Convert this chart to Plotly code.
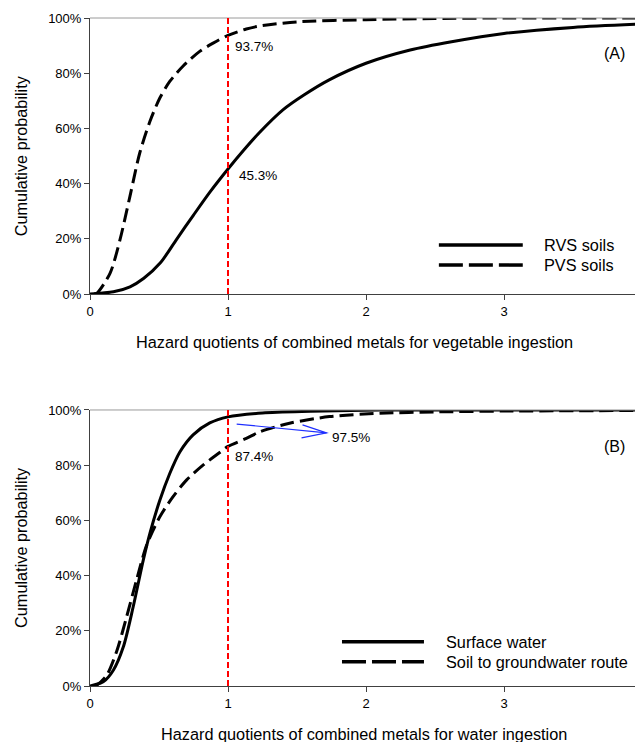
import plotly.graph_objects as go

# ---------------- data ----------------
# Panel A: vegetable ingestion
rvs_x = [0.0, 0.17, 0.29, 0.39, 0.51, 0.63, 0.75, 0.87, 1.0, 1.11, 1.23, 1.40, 1.55, 1.73, 2.0, 2.32, 2.62, 3.0, 3.5, 4.0]
rvs_y = [0.0, 0.8, 2.6, 5.7, 11.3, 20.0, 28.6, 37.0, 45.3, 51.9, 58.6, 66.8, 72.1, 77.5, 83.6, 88.4, 91.4, 94.4, 96.6, 97.8]
pvs_x = [0.03, 0.05, 0.145, 0.217, 0.289, 0.36, 0.434, 0.506, 0.578, 0.675, 0.795, 0.892, 1.0, 1.133, 1.23, 1.5, 2.0, 2.5, 3.0, 4.0]
pvs_y = [0.0, 0.3, 7.5, 19.6, 35.3, 51.0, 62.5, 71.0, 77.0, 82.6, 87.9, 90.9, 93.7, 96.0, 97.1, 98.6, 99.4, 99.8, 100.0, 100.0]

# Panel B: water ingestion
sw_x = [0.0, 0.096, 0.169, 0.241, 0.313, 0.386, 0.434, 0.506, 0.578, 0.651, 0.747, 0.868, 1.0, 1.25, 1.6, 2.1, 3.0, 4.0]
sw_y = [0.0, 1.5, 5.7, 14.1, 28.7, 45.6, 55.3, 67.3, 77.0, 84.8, 91.0, 95.3, 97.5, 98.9, 99.5, 100.0, 100.0, 100.0]
gw_x = [0.03, 0.048, 0.12, 0.193, 0.265, 0.338, 0.41, 0.506, 0.602, 0.699, 0.819, 0.94, 1.0, 1.133, 1.23, 1.446, 1.735, 2.1, 2.5, 3.0, 4.0]
gw_y = [0.0, 0.3, 3.8, 12.5, 25.0, 38.5, 51.0, 61.3, 68.6, 74.6, 80.0, 84.6, 86.8, 89.7, 92.1, 95.2, 97.6, 98.8, 99.3, 99.6, 99.8]

x_ticks = [0, 1, 2, 3, 4]
y_ticks = [0, 20, 40, 60, 80, 100]
y_tick_labels = ["0%", "20%", "40%", "60%", "80%", "100%"]
threshold = 1

FONT = "Liberation Sans, Arial, sans-serif"
fig = go.Figure()

def curve(x, y, xa, ya, dash):
    fig.add_trace(go.Scatter(
        x=x, y=y, xaxis=xa, yaxis=ya, mode="lines",
        line=dict(color="black", width=3, dash=dash, shape="spline", smoothing=0.8),
        showlegend=False, hoverinfo="skip"))

curve(rvs_x, rvs_y, "x", "y", "solid")
curve(pvs_x, pvs_y, "x", "y", "14px,6px")
curve(sw_x, sw_y, "x2", "y2", "solid")
curve(gw_x, gw_y, "x2", "y2", "14px,6px")

axis_common = dict(
    range=[0, 4], tickmode="array", tickvals=x_ticks, ticks="outside", ticklen=5,
    tickcolor="#404040", showline=True, linecolor="#404040", linewidth=1,
    showgrid=False, zeroline=False, automargin=False, ticklabeloverflow="allow",
    tickfont=dict(family=FONT, size=13, color="black"),
)
yaxis_common = dict(
    range=[0, 100], tickmode="array", tickvals=y_ticks, ticktext=y_tick_labels,
    ticks="outside", ticklen=5, tickcolor="#404040", showline=True,
    linecolor="#404040", linewidth=1, showgrid=False, zeroline=False,
    automargin=False, tickfont=dict(family=FONT, size=13, color="black"),
)

TOP = [0.5868, 1.0]
BOT = [0.0, 0.4132]

# page body adds ~8px offset; figure sized so the plot lands where the reference has it
fig.update_layout(
    width=635, height=734,
    margin=dict(l=82, r=1, t=10, b=56),
    paper_bgcolor="white", plot_bgcolor="white",
    font=dict(family=FONT, color="black"),
    xaxis=dict(axis_common, domain=[0, 1], anchor="y"),
    yaxis=dict(yaxis_common, domain=TOP, anchor="x"),
    xaxis2=dict(axis_common, domain=[0, 1], anchor="y2"),
    yaxis2=dict(yaxis_common, domain=BOT, anchor="x2"),
)

TITLE_FONT = dict(family=FONT, size=16.3, color="black")
fig.add_annotation(xref="paper", yref="paper", x=0.479, y=0.515,
                   text="Hazard quotients of combined metals for vegetable ingestion",
                   showarrow=False, xanchor="center", yanchor="middle", font=TITLE_FONT)
fig.add_annotation(xref="paper", yref="paper", x=0.4955, y=-0.0719,
                   text="Hazard quotients of combined metals for water ingestion",
                   showarrow=False, xanchor="center", yanchor="middle", font=TITLE_FONT)
for yc in (0.793, 0.2066):
    fig.add_annotation(xref="paper", yref="paper", x=-0.125, y=yc, text="Cumulative probability",
                       textangle=-90, showarrow=False, xanchor="center", yanchor="middle",
                       font=TITLE_FONT)

shapes = []
for xr, yr in (("x", "y"), ("x2", "y2")):
    shapes.append(dict(type="line", xref=xr + " domain", yref=yr + " domain", x0=0, x1=1, y0=1, y1=1,
                       line=dict(color="#9a9a9a", width=1)))
    shapes.append(dict(type="line", xref=xr + " domain", yref=yr + " domain", x0=1, x1=1, y0=0, y1=1,
                       line=dict(color="#c0c0c0", width=1)))
    shapes.append(dict(type="line", xref=xr, yref=yr + " domain", x0=threshold, x1=threshold, y0=0, y1=1,
                       line=dict(color="#ff0000", width=2, dash="6px,3px")))

def legend_item(xr, yr, x0, x1, y, dash, label, tx):
    shapes.append(dict(type="line", xref=xr + " domain", yref=yr + " domain", x0=x0, x1=x1, y0=y, y1=y,
                       line=dict(color="black", width=3.5, dash=dash)))
    fig.add_annotation(xref=xr + " domain", yref=yr + " domain", x=tx, y=y, text=label,
                       showarrow=False, xanchor="left", yanchor="middle",
                       font=dict(family=FONT, size=16.3, color="black"))

legend_item("x", "y", 0.632, 0.784, 0.178, "solid", "RVS soils", 0.818)
legend_item("x", "y", 0.632, 0.784, 0.105, "24px,6px", "PVS soils", 0.818)
legend_item("x2", "y2", 0.4565, 0.605, 0.160, "solid", "Surface water", 0.642)
legend_item("x2", "y2", 0.4565, 0.605, 0.088, "24px,6px", "Soil to groundwater route", 0.642)

shapes.append(dict(type="line", xref="x2", yref="y2", x0=1.063, y0=94.9, x1=1.714, y1=91.7,
                   line=dict(color="#1f2fff", width=1.2)))
shapes.append(dict(type="path", xref="x2", yref="y2",
                   path="M1.540,94.6 L1.714,91.7 L1.533,89.9",
                   line=dict(color="#1f2fff", width=1.2)))
fig.update_layout(shapes=shapes)

def label(xr, yr, x, y, text, size=13.5, anchor="left"):
    fig.add_annotation(xref=xr, yref=yr, x=x, y=y, text=text, showarrow=False,
                       xanchor=anchor, yanchor="middle",
                       font=dict(family=FONT, size=size, color="black"))

label("x", "y", 1.036, 89.5, "93.7%")
label("x", "y", 1.065, 43.1, "45.3%")
label("x", "y", 3.80, 87.0, "(A)", size=16, anchor="center")
label("x2", "y2", 1.739, 90.2, "97.5%")
label("x2", "y2", 1.036, 83.0, "87.4%")
label("x2", "y2", 3.80, 86.6, "(B)", size=16, anchor="center")

fig.write_html("out.html")
